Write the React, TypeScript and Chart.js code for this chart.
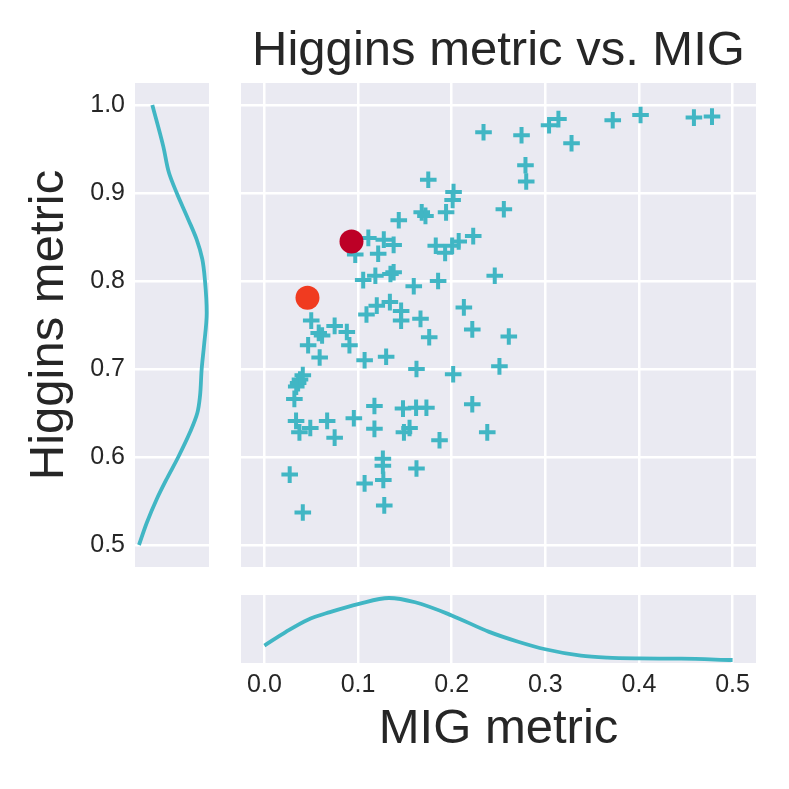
import React, { useEffect, useRef } from "react";
import { Chart, registerables } from "chart.js";

Chart.register(...registerables);

// scatter values
const migScores = [
  0.234, 0.175, 0.202, 0.201, 0.194, 0.168, 0.172, 0.1435, 0.111, 0.1275, 0.138, 0.097, 0.1215, 0.183, 0.193,
  0.2005, 0.2075, 0.223, 0.1055, 0.1185, 0.1346, 0.138, 0.1595, 0.1855, 0.246, 0.109, 0.12, 0.134, 0.146,
  0.146, 0.1667, 0.213, 0.222, 0.05, 0.058, 0.0616, 0.075, 0.088, 0.0908, 0.0467, 0.059, 0.107, 0.13, 0.176,
  0.1624, 0.2016, 0.251, 0.261, 0.041, 0.038, 0.036, 0.034, 0.032, 0.0338, 0.0374, 0.049, 0.067, 0.075,
  0.0955, 0.1175, 0.1175, 0.148, 0.162, 0.173, 0.149, 0.155, 0.187, 0.222, 0.238, 0.1265, 0.1265, 0.127,
  0.107, 0.1624, 0.027, 0.128, 0.041, 0.2746, 0.304, 0.314, 0.328, 0.372, 0.4017, 0.4587, 0.478, 0.2788,
  0.2796, 0.2557,
];
const higginsScores = [
  0.969, 0.915, 0.901, 0.892, 0.878, 0.878, 0.874, 0.869, 0.849, 0.847, 0.841, 0.83, 0.831, 0.84, 0.832,
  0.84, 0.845, 0.851, 0.801, 0.806, 0.808, 0.81, 0.794, 0.8, 0.806, 0.762, 0.772, 0.776, 0.766, 0.755,
  0.757, 0.77, 0.745, 0.755, 0.741, 0.738, 0.749, 0.742, 0.727, 0.727, 0.713, 0.71, 0.714, 0.736, 0.7,
  0.694, 0.703, 0.737, 0.693, 0.688, 0.684, 0.68, 0.666, 0.641, 0.628, 0.633, 0.641, 0.622, 0.644, 0.658,
  0.632, 0.655, 0.656, 0.656, 0.628, 0.633, 0.619, 0.66, 0.628, 0.598, 0.59, 0.574, 0.57, 0.587, 0.58,
  0.545, 0.537, 0.9656, 0.977, 0.984, 0.9565, 0.9826, 0.9886, 0.9857, 0.9868, 0.9315, 0.913, 0.8815,
];

// the two highlighted models
const highlightMig = [0.093, 0.046];
const highlightHiggins = [0.845, 0.781];
const highlightColors = ["#bd0026", "#f03b20"];

// marginal density curves (relative height inside their panel)
const higginsKdeLevels = [0.5, 0.525, 0.552, 0.575, 0.6, 0.628, 0.65, 0.669, 0.7, 0.726, 0.764, 0.8, 0.825, 0.847, 0.87, 0.9, 0.923, 0.953, 1.0];
const higginsKdeDensity = [0.054, 0.158, 0.293, 0.428, 0.585, 0.743, 0.842, 0.878, 0.901, 0.932, 0.969, 0.946, 0.909, 0.834, 0.72, 0.564, 0.459, 0.382, 0.234];
const migKdeLevels = [0, 0.023, 0.0465, 0.07, 0.101, 0.133, 0.161, 0.2, 0.24, 0.271, 0.3, 0.338, 0.366, 0.4, 0.445, 0.5];
const migKdeDensity = [0.256, 0.458, 0.637, 0.748, 0.87, 0.956, 0.893, 0.7, 0.458, 0.313, 0.202, 0.107, 0.078, 0.067, 0.063, 0.044];

const xTickValues = [0, 0.1, 0.2, 0.3, 0.4, 0.5];
const xTickLabels = ["0.0", "0.1", "0.2", "0.3", "0.4", "0.5"];
const yTickValues = [0.5, 0.6, 0.7, 0.8, 0.9, 1.0];
const yTickLabels = ["0.5", "0.6", "0.7", "0.8", "0.9", "1.0"];

const FONT = "'Liberation Sans', Arial, sans-serif";
const TEXT = "#262626";
const PANEL = "#eaeaf2";
const CYAN = "#41b6c4";
const X_MIN = -0.025;
const X_MAX = 0.525;
const Y_MIN = 0.475;
const Y_MAX = 1.025;

// seaborn-like grey panel behind the grid
const panelBackground = {
  id: "panelBackground",
  beforeDraw(chart: any) {
    const { ctx, chartArea } = chart;
    ctx.save();
    ctx.fillStyle = PANEL;
    ctx.fillRect(chartArea.left, chartArea.top, chartArea.width, chartArea.height);
    ctx.restore();
  },
};

const grid = { color: "#ffffff", lineWidth: 2.5, drawTicks: false };

const setTicks = (values: number[]) => (axis: any) => {
  axis.ticks = values.map((value) => ({ value }));
};

const fixSize = (w: number | null, h: number | null) => (axis: any) => {
  if (w !== null) axis.width = w;
  if (h !== null) axis.height = h;
  axis.paddingTop = 0;
  axis.paddingBottom = 0;
  axis.paddingLeft = 0;
  axis.paddingRight = 0;
};

const baseOptions = {
  responsive: true,
  maintainAspectRatio: false,
  animation: false as const,
  events: [] as any[],
  plugins: { legend: { display: false }, tooltip: { enabled: false } },
};

function useChart(makeConfig: () => any) {
  const canvasRef = useRef<HTMLCanvasElement | null>(null);
  useEffect(() => {
    if (!canvasRef.current) return;
    const chart = new Chart(canvasRef.current, makeConfig());
    return () => chart.destroy();
  }, []);
  return canvasRef;
}

const LeftMarginal: React.FC = () => {
  const ref = useChart(() => ({
    type: "line",
    data: {
      datasets: [
        {
          data: higginsKdeLevels.map((y, i) => ({ x: higginsKdeDensity[i], y })),
          borderColor: CYAN,
          borderWidth: 3.8,
          pointRadius: 0,
          cubicInterpolationMode: "monotone",
        },
      ],
    },
    options: {
      ...baseOptions,
      indexAxis: "y",
      layout: { padding: { top: 83, bottom: 0, left: 0, right: 0 }, autoPadding: false },
      scales: {
        x: { type: "linear", display: false, min: 0, max: 1 },
        y: {
          type: "linear",
          position: "left",
          min: Y_MIN,
          max: Y_MAX,
          afterBuildTicks: setTicks(yTickValues),
          afterFit: fixSize(135, null),
          grid,
          border: { display: false },
          ticks: {
            padding: 10,
            color: TEXT,
            font: { family: FONT, size: 25 },
            callback: (_v: any, i: number) => yTickLabels[i],
          },
          title: {
            display: true,
            text: "Higgins metric",
            color: TEXT,
            font: { family: FONT, size: 49 },
            padding: { top: 20, bottom: 0 },
          },
        },
      },
    },
    plugins: [panelBackground],
  }));
  return <canvas ref={ref} />;
};

const MainScatter: React.FC = () => {
  const ref = useChart(() => ({
    type: "scatter",
    data: {
      datasets: [
        ...highlightMig.map((x, i) => ({
          data: [{ x, y: highlightHiggins[i] }],
          pointStyle: "circle",
          pointRadius: 12,
          backgroundColor: highlightColors[i],
          borderWidth: 0,
        })),
        {
          data: migScores.map((x, i) => ({ x, y: higginsScores[i] })),
          pointStyle: "cross",
          pointRadius: 8.3,
          borderColor: CYAN,
          borderWidth: 4,
        },
      ],
    },
    options: {
      ...baseOptions,
      layout: { padding: 0, autoPadding: false },
      plugins: {
        ...baseOptions.plugins,
        title: {
          display: true,
          text: "Higgins metric vs. MIG",
          color: TEXT,
          font: { family: FONT, size: 49, weight: "normal" },
          padding: { top: 22, bottom: 2.2 },
        },
      },
      scales: {
        x: {
          type: "linear",
          min: X_MIN,
          max: X_MAX,
          afterBuildTicks: setTicks(xTickValues),
          afterFit: fixSize(null, 0),
          grid,
          border: { display: false },
          ticks: { display: false },
        },
        y: {
          type: "linear",
          min: Y_MIN,
          max: Y_MAX,
          afterBuildTicks: setTicks(yTickValues),
          afterFit: fixSize(0, null),
          grid,
          border: { display: false },
          ticks: { display: false },
        },
      },
    },
    plugins: [panelBackground],
  }));
  return <canvas ref={ref} />;
};

const BottomMarginal: React.FC = () => {
  const ref = useChart(() => ({
    type: "line",
    data: {
      datasets: [
        {
          data: migKdeLevels.map((x, i) => ({ x, y: migKdeDensity[i] })),
          borderColor: CYAN,
          borderWidth: 3.8,
          pointRadius: 0,
          cubicInterpolationMode: "monotone",
        },
      ],
    },
    options: {
      ...baseOptions,
      layout: { padding: { top: 28, bottom: 0, left: 0, right: 0 }, autoPadding: false },
      scales: {
        x: {
          type: "linear",
          min: X_MIN,
          max: X_MAX,
          afterBuildTicks: setTicks(xTickValues),
          afterFit: fixSize(null, 126),
          grid,
          border: { display: false },
          ticks: {
            padding: 7,
            maxRotation: 0,
            autoSkip: false,
            color: TEXT,
            font: { family: FONT, size: 25 },
            callback: (_v: any, i: number) => xTickLabels[i],
          },
          title: {
            display: true,
            text: "MIG metric",
            color: TEXT,
            font: { family: FONT, size: 49 },
            padding: { top: 0, bottom: 30.6 },
          },
        },
        y: { type: "linear", display: false, min: 0, max: 1 },
      },
    },
    plugins: [panelBackground],
  }));
  return <canvas ref={ref} />;
};

const box = (left: number, top: number, width: number, height: number): React.CSSProperties => ({
  position: "absolute",
  left,
  top,
  width,
  height,
});

const App: React.FC = () => {
  return (
    <div style={{ position: "absolute", left: 0, top: 0, width: 789, height: 789, background: "#ffffff" }}>
      <div style={box(0, 0, 209, 567)}>
        <LeftMarginal />
      </div>
      <div style={box(241, 0, 515, 567)}>
        <MainScatter />
      </div>
      <div style={box(241, 567, 515, 222)}>
        <BottomMarginal />
      </div>
    </div>
  );
};

export default App;
